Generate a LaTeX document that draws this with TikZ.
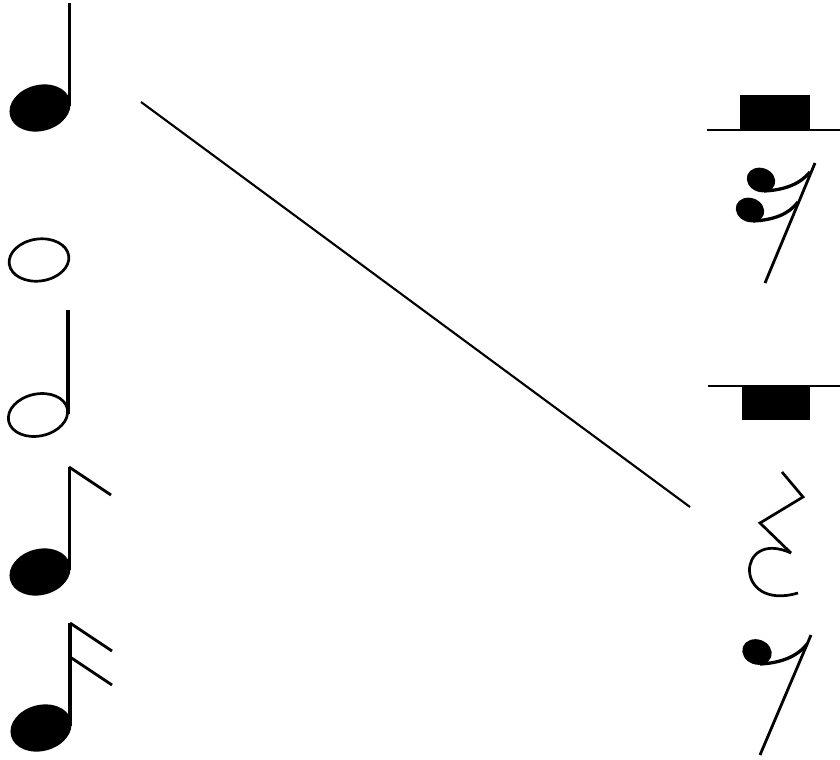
\documentclass[tikz,border=0pt]{standalone}
\usetikzlibrary{positioning,calc}

\tikzset{
  stemline/.style={line width=2.6pt,line cap=butt},
  flagline/.style={line width=2.4pt},
  headfill/.style={fill=black},
  headopen/.style={draw=black,line width=2.3pt},
  restline/.style={line width=2.4pt},
  resttail/.style={line width=2.8pt},
}

\begin{document}
\begin{tikzpicture}[x=0.03cm,y=-0.03cm]
\useasboundingbox (0,0) rectangle (840,760);

% Notes (left column)
% quarter
\fill[headfill,rotate around={15:(40,108)}] (40,108) ellipse (31 and 23);
\draw[stemline] (69.5,3) -- (69.5,106);
% whole
\draw[headopen,rotate around={8:(39,260)}] (39,260) ellipse (30 and 21);
% half
\draw[headopen,rotate around={12:(38,415)}] (38,415) ellipse (30 and 21);
\draw[stemline] (68,310) -- (68,414);
% eighth
\fill[headfill,rotate around={15:(40,572)}] (40,572) ellipse (31 and 23);
\draw[stemline] (69.5,467) -- (69.5,570);
\draw[flagline] (69,467) -- (111,495);
% sixteenth
\fill[headfill,rotate around={15:(41,728)}] (41,728) ellipse (31 and 23);
\draw[stemline] (70,623) -- (70,726);
\foreach \y in {623,657}
  \draw[flagline] (70,\y) -- (112,\y+28);

% Rests (right column)
% whole rest
\draw[restline] (707,130) -- (840,130);
\fill (740,95) rectangle (810,130);
% sixteenth rest
\draw[restline] (815,163) -- (765,283);
\fill[rotate around={-20:(761,180)}] (761,180) ellipse (14.5 and 12);
\fill[rotate around={-20:(750,210)}] (750,210) ellipse (14.5 and 12);
\draw[resttail] (764,191) .. controls (785,190) and (800,184) .. (810,172);
\draw[resttail] (753,221) .. controls (774,220) and (789,214) .. (798,202);
% half rest
\draw[restline] (708,386) -- (840,386);
\fill (742,386) rectangle (810,420);
% quarter rest
\draw[line width=2.3pt,line join=miter] (782,472) -- (803,497) -- (760,523) -- (791,553);
\draw[line width=2.3pt] (791,553) .. controls (736,528) and (733,612) .. (798,593);
% eighth rest
\draw[restline] (811,635) -- (760,755);
\fill[rotate around={-20:(757,652)}] (757,652) ellipse (15 and 12.5);
\draw[resttail] (760,664) .. controls (780,663) and (797,657) .. (807,644);

% Connector
\coordinate (quarternote) at (141,102);
\coordinate (quarterrest) at (690,507);
\draw[line width=1.8pt] (quarternote) -- (quarterrest);

\end{tikzpicture}
\end{document}
